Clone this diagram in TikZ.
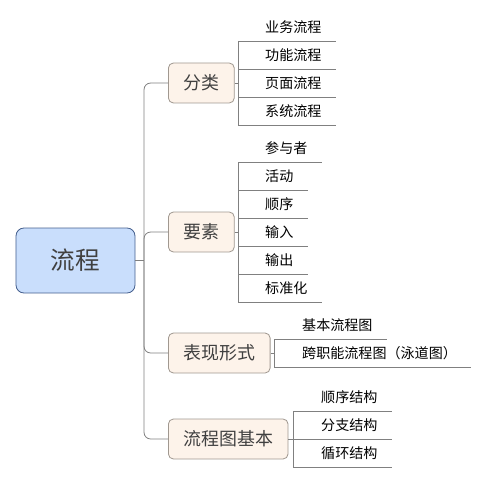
\documentclass[tikz,border=0pt]{standalone}
\usepackage{fontspec}
\setmainfont{Noto Sans CJK SC}
\definecolor{bluradice}{RGB}{201,222,252}
\definecolor{bordoradice}{RGB}{70,96,142}
\definecolor{pescaramo}{RGB}{253,243,234}
\definecolor{bordoramo}{RGB}{160,152,144}
\definecolor{grigiolinea}{RGB}{128,128,128}
\definecolor{testoscuro}{RGB}{64,64,64}

\begin{document}
\begin{tikzpicture}[
  x=0.03cm, y=-0.03cm,
  collegamento/.style={draw=grigiolinea, line width=0.7pt},
  radice/.style={draw=bordoradice, fill=bluradice, line width=0.7pt, rounded corners=0.24cm,
    minimum width=3.57cm, minimum height=1.95cm, text=testoscuro,
    font=\fontsize{21pt}{24pt}\selectfont},
  ramo/.style={draw=bordoramo, fill=pescaramo, line width=0.7pt, rounded corners=0.15cm,
    inner xsep=0.45cm, inner ysep=0pt, minimum height=1.2cm, text=testoscuro,
    font=\fontsize{15.3pt}{18pt}\selectfont},
  foglia/.style={inner xsep=0.42cm, inner ysep=0pt, minimum height=0.84cm, anchor=south west,
    font=\fontsize{12pt}{14pt}\selectfont}
]
\useasboundingbox (0,0) rectangle (488,483);

%--------------------------------------------------------------
% Radice e rami principali
%--------------------------------------------------------------
\node[radice] (flusso) at (75.5,260.5) {流程};
\coordinate (snodo) at (144,260.5);
\node[ramo, anchor=west] (classi) at (168,83) {分类};
\node[ramo, anchor=west] (elementi) at (168,232) {要素};
\node[ramo, anchor=west] (forme) at (168,353) {表现形式};
\node[ramo, anchor=west] (base) at (168,439) {流程图基本};

\draw[collegamento] (flusso.east) -- (snodo);
\draw[collegamento, rounded corners=0.2cm] (snodo) |- (classi.west);
\draw[collegamento, rounded corners=0.2cm] (snodo) |- (elementi.west);
\draw[collegamento, rounded corners=0.2cm] (snodo) |- (forme.west);
\draw[collegamento, rounded corners=0.2cm] (snodo) |- (base.west);

%--------------------------------------------------------------
% Foglie di 分类
%--------------------------------------------------------------
\coordinate (staffaA) at (238,83);
\node[foglia] (a1) at (251,41) {业务流程};
\node[foglia] (a2) at (251,69) {功能流程};
\node[foglia] (a3) at (251,97) {页面流程};
\node[foglia] (a4) at (251,125) {系统流程};
\draw[collegamento] (classi.east) -- (staffaA);
\draw[collegamento] (a1.south west -| staffaA) -- (a4.south west -| staffaA);
\draw[collegamento] (a1.south west -| staffaA) -- (a1.south east);
\draw[collegamento] (a2.south west -| staffaA) -- (a2.south east);
\draw[collegamento] (a3.south west -| staffaA) -- (a3.south east);
\draw[collegamento] (a4.south west -| staffaA) -- (a4.south east);

%--------------------------------------------------------------
% Foglie di 要素
%--------------------------------------------------------------
\coordinate (staffaB) at (238,232);
\node[foglia] (b1) at (251,162) {参与者};
\node[foglia] (b2) at (251,190) {活动};
\node[foglia] (b3) at (251,218) {顺序};
\node[foglia] (b4) at (251,246) {输入};
\node[foglia] (b5) at (251,274) {输出};
\node[foglia] (b6) at (251,302) {标准化};
\draw[collegamento] (elementi.east) -- (staffaB);
\draw[collegamento] (b1.south west -| staffaB) -- (b6.south west -| staffaB);
\draw[collegamento] (b1.south west -| staffaB) -- (b1.south east);
\draw[collegamento] (b2.south west -| staffaB) -- (b2.south east);
\draw[collegamento] (b3.south west -| staffaB) -- (b3.south east);
\draw[collegamento] (b4.south west -| staffaB) -- (b4.south east);
\draw[collegamento] (b5.south west -| staffaB) -- (b5.south east);
\draw[collegamento] (b6.south west -| staffaB) -- (b6.south east);

%--------------------------------------------------------------
% Foglie di 表现形式
%--------------------------------------------------------------
\coordinate (staffaC) at (274,353);
\node[foglia] (c1) at (288,339) {基本流程图};
\node[foglia] (c2) at (288,367) {跨职能流程图（泳道图）};
\draw[collegamento] (forme.east) -- (staffaC);
\draw[collegamento] (c1.south west -| staffaC) -- (c2.south west -| staffaC);
\draw[collegamento] (c1.south west -| staffaC) -- (c1.south east);
\draw[collegamento] (c2.south west -| staffaC) -- (c2.south east);

%--------------------------------------------------------------
% Foglie di 流程图基本
%--------------------------------------------------------------
\coordinate (staffaD) at (293,439);
\node[foglia] (d1) at (307,411) {顺序结构};
\node[foglia] (d2) at (307,439) {分支结构};
\node[foglia] (d3) at (307,467) {循环结构};
\draw[collegamento] (base.east) -- (staffaD);
\draw[collegamento] (d1.south west -| staffaD) -- (d3.south west -| staffaD);
\draw[collegamento] (d1.south west -| staffaD) -- (d1.south east);
\draw[collegamento] (d2.south west -| staffaD) -- (d2.south east);
\draw[collegamento] (d3.south west -| staffaD) -- (d3.south east);

\end{tikzpicture}
\end{document}
